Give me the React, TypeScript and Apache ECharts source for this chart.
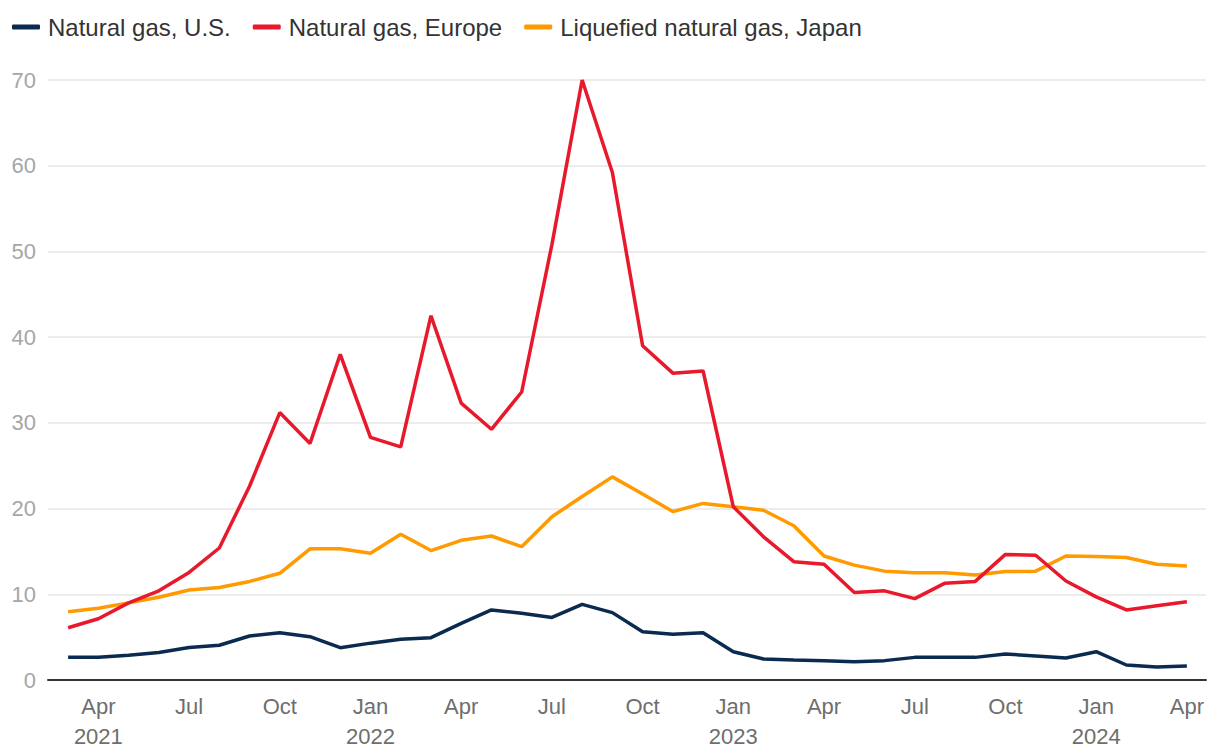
import React, { useEffect, useRef } from "react";
import * as echarts from "echarts";

const months: string[] = [
  "2021-03", "2021-04", "2021-05", "2021-06", "2021-07", "2021-08", "2021-09", "2021-10", "2021-11", "2021-12",
  "2022-01", "2022-02", "2022-03", "2022-04", "2022-05", "2022-06", "2022-07", "2022-08", "2022-09", "2022-10", "2022-11", "2022-12",
  "2023-01", "2023-02", "2023-03", "2023-04", "2023-05", "2023-06", "2023-07", "2023-08", "2023-09", "2023-10", "2023-11", "2023-12",
  "2024-01", "2024-02", "2024-03", "2024-04",
];

const usGas: number[] = [
  2.65, 2.65, 2.9, 3.2, 3.8, 4.05, 5.13, 5.5, 5.05, 3.77,
  4.3, 4.75, 4.94, 6.6, 8.17, 7.78, 7.3, 8.83, 7.86, 5.64, 5.33, 5.52,
  3.3, 2.45, 2.33, 2.26, 2.14, 2.26, 2.64, 2.64, 2.64, 3.03, 2.8, 2.57,
  3.3, 1.75, 1.52, 1.63,
];

const europeGas: number[] = [
  6.1, 7.15, 9.0, 10.4, 12.55, 15.4, 22.6, 31.2, 27.6, 38.0,
  28.3, 27.2, 42.5, 32.3, 29.25, 33.6, 50.8, 70.0, 59.2, 39.0, 35.8, 36.05,
  20.2, 16.7, 13.8, 13.5, 10.2, 10.4, 9.5, 11.3, 11.5, 14.65, 14.55, 11.55,
  9.7, 8.17, 8.67, 9.14,
];

const japanLng: number[] = [
  7.97, 8.36, 9.0, 9.65, 10.5, 10.8, 11.5, 12.45, 15.3, 15.3,
  14.8, 17.0, 15.1, 16.3, 16.8, 15.55, 19.05, 21.4, 23.7, 21.7, 19.65, 20.6,
  20.2, 19.8, 18.0, 14.47, 13.4, 12.7, 12.5, 12.5, 12.25, 12.65, 12.7, 14.47,
  14.4, 14.3, 13.5, 13.3,
];

const seriesNames: string[] = ["Natural gas, U.S.", "Natural gas, Europe", "Liquefied natural gas, Japan"];
const seriesColors: string[] = ["#0b2a4f", "#e8192c", "#ff9a00"];
const monthNames: string[] = ["Jan", "Feb", "Mar", "Apr", "May", "Jun", "Jul", "Aug", "Sep", "Oct", "Nov", "Dec"];

const FONT = "'Liberation Sans', Arial, Helvetica, sans-serif";

export default function App() {
  const ref = useRef<HTMLDivElement>(null);

  useEffect(() => {
    document.body.style.margin = "0";
    if (!ref.current) return;
    const chart = echarts.init(ref.current, undefined, { renderer: "svg" });

    const isQuarter = (i: number) => {
      const m = parseInt(months[i].slice(5), 10);
      return m === 1 || m === 4 || m === 7 || m === 10;
    };
    const firstLabelIdx = months.findIndex((_, k) => isQuarter(k));

    chart.setOption({
      animation: false,
      textStyle: { fontFamily: FONT },
      legend: {
        left: 7,
        top: 10,
        icon: "roundRect",
        itemWidth: 28,
        itemHeight: 5,
        itemGap: 22,
        textStyle: { fontSize: 24, color: "#333", fontFamily: FONT, padding: [0, 0, 0, 3] },
        data: seriesNames,
      },
      grid: [
        { left: 53, right: 18, top: 80, bottom: 76 },
        { left: 48, right: 14, top: 80, bottom: 76 },
      ],
      xAxis: [
        {
          type: "category",
          gridIndex: 0,
          data: months,
          boundaryGap: true,
          axisLine: { show: false },
          axisTick: { show: false },
          axisLabel: {
            interval: (i: number) => isQuarter(i),
            margin: 11,
            fontSize: 22,
            lineHeight: 30,
            color: "#6e6e6e",
            fontFamily: FONT,
            formatter: (v: string) => {
              const y = v.slice(0, 4);
              const m = parseInt(v.slice(5), 10);
              const name = monthNames[m - 1];
              if (m === 1 || months.indexOf(v) === firstLabelIdx) {
                return name + "\n" + y;
              }
              return name;
            },
          },
          splitLine: { show: false },
        },
        {
          type: "category",
          gridIndex: 1,
          data: ["a"],
          axisLine: { show: true, lineStyle: { color: "#333", width: 2 } },
          axisTick: { show: false },
          axisLabel: { show: false },
          splitLine: { show: false },
        },
      ],
      yAxis: [
        {
          type: "value",
          gridIndex: 0,
          min: 0,
          max: 70,
          interval: 10,
          axisLine: { show: false },
          axisTick: { show: false },
          axisLabel: { show: false },
          splitLine: { show: false },
        },
        {
          type: "value",
          gridIndex: 1,
          min: 0,
          max: 70,
          interval: 10,
          axisLine: { show: false },
          axisTick: { show: false },
          axisLabel: { margin: 12, fontSize: 22, color: "#a6a6a6", fontFamily: FONT },
          splitLine: { show: true, lineStyle: { color: "#e6e6e6", width: 1.5 } },
        },
      ],
      series: [
        { name: seriesNames[0], data: usGas },
        { name: seriesNames[1], data: europeGas },
        { name: seriesNames[2], data: japanLng },
      ].map((s, i) => ({
        ...s,
        type: "line",
        xAxisIndex: 0,
        yAxisIndex: 0,
        showSymbol: false,
        symbol: "none",
        z: 5 + (2 - i),
        lineStyle: { color: seriesColors[i], width: 3.5 },
        itemStyle: { color: seriesColors[i] },
      })),
    });

    return () => chart.dispose();
  }, []);

  return <div ref={ref} style={{ width: 1220, height: 756 }} />;
}
